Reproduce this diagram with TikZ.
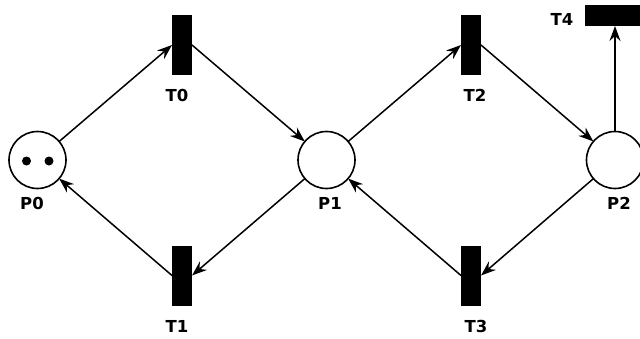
\documentclass[tikz,border=0pt]{standalone}
\usepackage{fontspec}
\setmainfont{DejaVu Sans}
\usetikzlibrary{arrows.meta}
\begin{document}
\begin{tikzpicture}[x=1pt,y=-1pt,
  place/.style={circle,draw,line width=1.6pt,minimum size=57pt,inner sep=0pt,outer sep=0pt,fill=white},
  trans/.style={rectangle,fill=black,draw=none,minimum width=20pt,minimum height=60pt,inner sep=0pt,outer sep=0pt},
  token/.style={circle,fill=black,minimum size=9pt,inner sep=0pt},
  lbl/.style={font=\fontsize{16.5pt}{18pt}\selectfont\bfseries,inner sep=0pt},
  arc/.style={line width=1.5pt,-{Stealth[length=15pt,width=11pt,inset=5pt]}}]
\useasboundingbox (0,0) rectangle (640,338);
\node[place] (P0) at (37.5,160) {};
\node[place] (P1) at (326.5,160) {};
\node[place] (P2) at (615,160) {};
\node[token] (k1) at (26.5,161) {};
\node[token] (k2) at (49,161) {};
\node[trans] (T0) at (182,45) {};
\node[trans] (T1) at (182,275.5) {};
\node[trans] (T2) at (471,45) {};
\node[trans] (T3) at (471,275.5) {};
\node[trans,minimum width=60pt,minimum height=21pt] (T4) at (615,15.5) {};
\node[lbl] (lP0) at (32,203) {P0};
\node[lbl] (lP1) at (330,203) {P1};
\node[lbl] (lP2) at (619,203) {P2};
\node[lbl] (lT0) at (177,95) {T0};
\node[lbl] (lT1) at (177,326) {T1};
\node[lbl] (lT2) at (475,95) {T2};
\node[lbl] (lT3) at (476,326) {T3};
\node[lbl] (lT4) at (562,19) {T4};
\draw[arc] (P0) -- (T0.west);
\draw[arc] (T0.east) -- (P1);
\draw[arc] (P1) -- (T1.east);
\draw[arc] (T1.west) -- (P0);
\draw[arc] (P1) -- (T2.west);
\draw[arc] (T2.east) -- (P2);
\draw[arc] (P2) -- (T3.east);
\draw[arc] (T3.west) -- (P1);
\draw[arc] (P2.north) -- (T4.south);
\end{tikzpicture}
\end{document}
